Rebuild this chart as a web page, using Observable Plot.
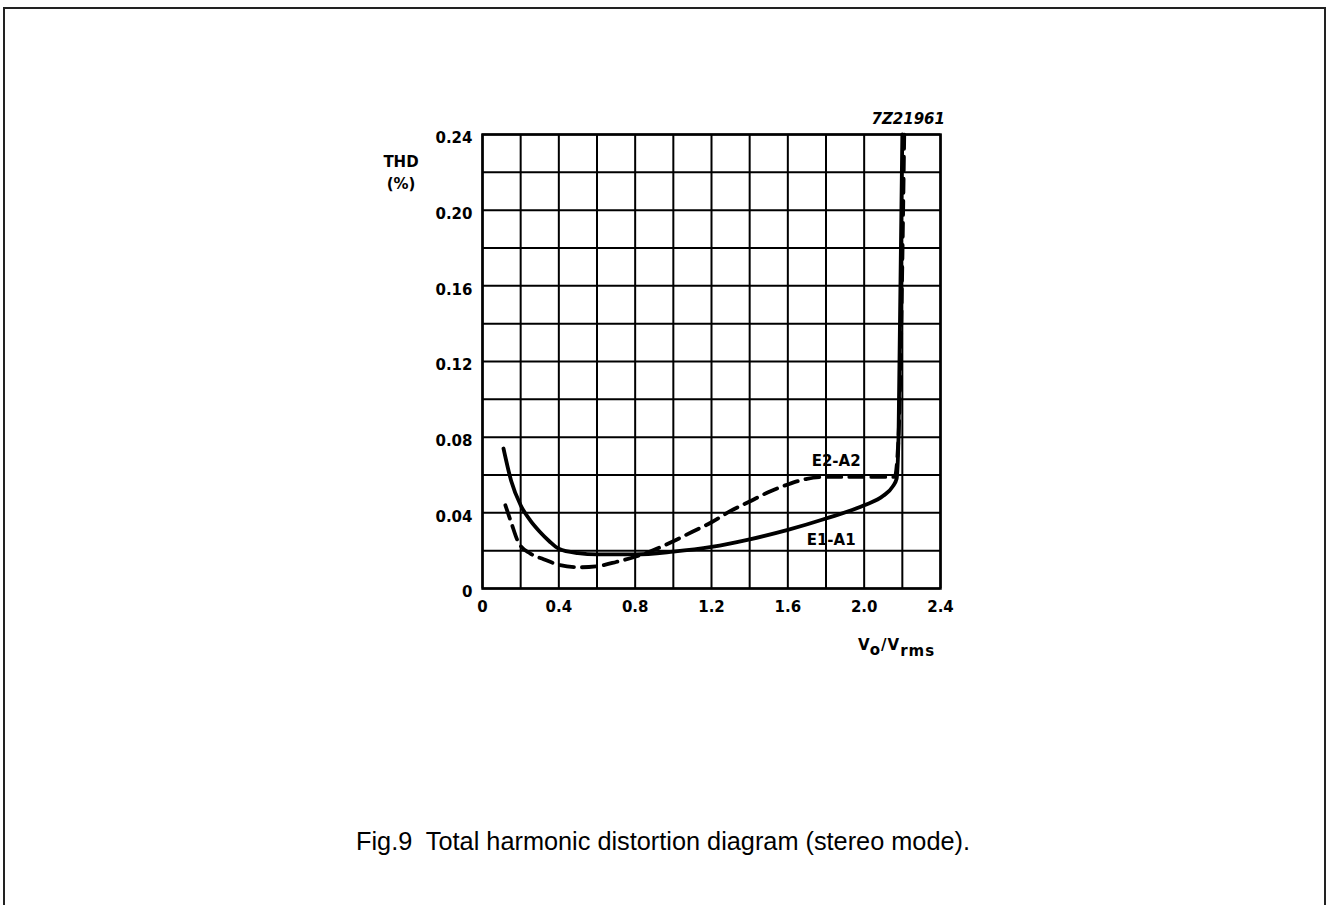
<!DOCTYPE html>
<html>
<head>
<meta charset="utf-8">
<script src="https://cdn.jsdelivr.net/npm/d3@7"></script>
<script src="https://cdn.jsdelivr.net/npm/@observablehq/plot@0.6"></script>
<style>
  html, body { margin: 0; padding: 0; background: #fff; }
  body { width: 1326px; height: 905px; position: relative; overflow: hidden; }
  #border { position: absolute; left: 3px; top: 7px; width: 1323px; height: 940px; box-sizing: border-box; border: 2.5px solid #222; }
  #chart { position: absolute; left: 360px; top: 100px; }
  #caption { position: absolute; left: 0; top: 826px; width: 1326px; text-align: center; white-space: pre; line-height: 30px;
             font-family: "Liberation Sans", Arial, sans-serif; font-size: 25.3px; color: #000; }
</style>
</head>
<body>
<div id="border"></div>
<div id="chart"></div>
<div id="caption">Fig.9  Total harmonic distortion diagram (stereo mode).</div>
<script>
// E1-A1 (solid)
const e1x = [0.11, 0.15, 0.2, 0.25, 0.3, 0.35, 0.4, 0.5, 0.6, 0.8, 1.0, 1.2, 1.4, 1.6, 1.8, 2.0, 2.1, 2.15, 2.17, 2.18, 2.2];
const e1y = [0.074, 0.057, 0.044, 0.036, 0.030, 0.025, 0.021, 0.0187, 0.018, 0.018, 0.0195, 0.022, 0.026, 0.031, 0.037, 0.044, 0.049, 0.054, 0.058, 0.08, 0.24];
// E2-A2 (dashed)
const e2x = [0.12, 0.15, 0.19, 0.25, 0.32, 0.4, 0.5, 0.6, 0.7, 0.8, 0.9, 1.0, 1.1, 1.2, 1.3, 1.4, 1.5, 1.6, 1.7, 1.8, 2.0, 2.16, 2.18, 2.21];
const e2y = [0.044, 0.035, 0.024, 0.0185, 0.0155, 0.0125, 0.0112, 0.0118, 0.014, 0.0168, 0.0205, 0.025, 0.030, 0.035, 0.041, 0.046, 0.051, 0.055, 0.058, 0.059, 0.059, 0.059, 0.08, 0.24];

const xTicks = [0, 0.4, 0.8, 1.2, 1.6, 2.0, 2.4];
const yTicks = [0, 0.04, 0.08, 0.12, 0.16, 0.20, 0.24];
const xGrid = d3.range(0, 13).map(i => +(i * 0.2).toFixed(1));
const yGrid = d3.range(0, 13).map(i => +(i * 0.02).toFixed(2));

const seriesLabels = [
  {name: "E2-A2", x: 1.853, y: 0.0672},
  {name: "E1-A1", x: 1.827, y: 0.0254}
];

const e1 = e1x.map((x, i) => ({x, y: e1y[i]}));
const e2 = e2x.map((x, i) => ({x, y: e2y[i]}));

const FONT = "'DejaVu Sans', sans-serif";

const plot = Plot.plot({
  width: 620,
  height: 580,
  marginLeft: 122,
  marginRight: 40,
  marginTop: 34,
  marginBottom: 92,
  style: {fontFamily: FONT, fontSize: "15px", fontWeight: "bold", color: "#000", background: "transparent"},
  x: {domain: [0, 2.4]},
  y: {domain: [0, 0.24]},
  marks: [
    Plot.gridX(xGrid, {stroke: "#000", strokeOpacity: 1, strokeWidth: 2}),
    Plot.gridY(yGrid, {stroke: "#000", strokeOpacity: 1, strokeWidth: 2}),
    Plot.frame({stroke: "#000", strokeWidth: 2.5}),
    Plot.axisX(xTicks, {tickSize: 0, tickPadding: 13, label: null,
      tickFormat: d => d === 0 ? "0" : d.toFixed(1), fontSize: 15, fontWeight: "bold"}),
    Plot.axisY(yTicks, {tickSize: 0, tickPadding: 10, label: null, dy: 4,
      tickFormat: d => d === 0 ? "0" : d.toFixed(2), fontSize: 15, fontWeight: "bold"}),
    Plot.line(e1, {x: "x", y: "y", curve: "monotone-x", stroke: "#000", strokeWidth: 3.8}),
    Plot.line(e2, {x: "x", y: "y", curve: "monotone-x", stroke: "#000", strokeWidth: 3.8, strokeDasharray: "14,8"}),
    Plot.text(seriesLabels, {x: "x", y: "y", text: "name", fontSize: 15, fontWeight: "bold", fill: "#000"})
  ]
});

document.getElementById("chart").appendChild(plot);

const svg = d3.select(plot);
svg.append("text").attr("x", 585).attr("y", 24).attr("text-anchor", "end")
  .attr("font-family", FONT).attr("font-size", 15).attr("font-weight", "bold").attr("font-style", "italic")
  .attr("fill", "#000").text("7Z21961");
svg.append("text").attr("x", 41).attr("y", 67).attr("text-anchor", "middle")
  .attr("font-family", FONT).attr("font-size", 15).attr("font-weight", "bold").attr("fill", "#000").text("THD");
svg.append("text").attr("x", 41).attr("y", 89).attr("text-anchor", "middle")
  .attr("font-family", FONT).attr("font-size", 15).attr("font-weight", "bold").attr("fill", "#000").text("(%)");
const xl = svg.append("text").attr("x", 498).attr("y", 550).attr("text-anchor", "start").attr("letter-spacing", 1)
  .attr("font-family", FONT).attr("font-size", 15).attr("font-weight", "bold").attr("fill", "#000");
xl.append("tspan").text("V");
xl.append("tspan").attr("dy", 5).text("o");
xl.append("tspan").attr("dy", -5).text("/V");
xl.append("tspan").attr("dy", 6).text("rms");
</script>
</body>
</html>
